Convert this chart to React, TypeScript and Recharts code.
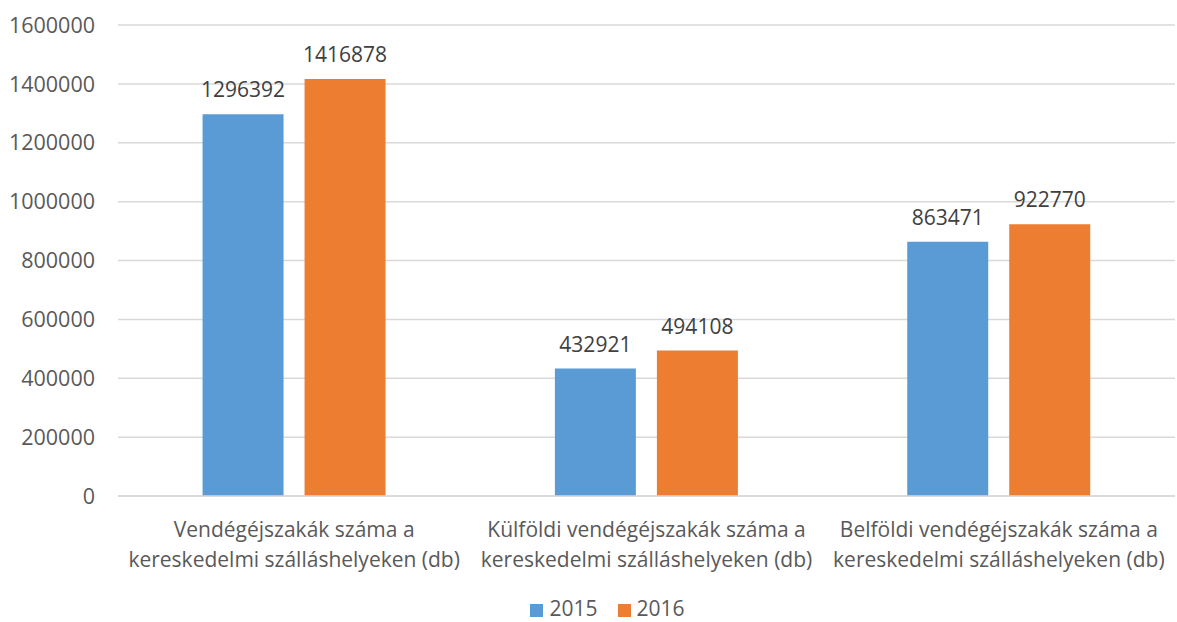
import { BarChart, Bar, XAxis, YAxis, CartesianGrid, Legend, LabelList } from 'recharts'

const categories = [
  'Vendégéjszakák száma a kereskedelmi szálláshelyeken (db)',
  'Külföldi vendégéjszakák száma a kereskedelmi szálláshelyeken (db)',
  'Belföldi vendégéjszakák száma a kereskedelmi szálláshelyeken (db)',
]
const categoryLines = [
  ['Vendégéjszakák száma a', 'kereskedelmi szálláshelyeken (db)'],
  ['Külföldi vendégéjszakák száma a', 'kereskedelmi szálláshelyeken (db)'],
  ['Belföldi vendégéjszakák száma a', 'kereskedelmi szálláshelyeken (db)'],
]
const values2015 = [1296392, 432921, 863471]
const values2016 = [1416878, 494108, 922770]
const yTicks = [0, 200000, 400000, 600000, 800000, 1000000, 1200000, 1400000, 1600000]

const data = categories.map((name, i) => ({
  name,
  '2015': values2015[i],
  '2016': values2016[i],
}))

const FONT = '"Open Sans", sans-serif'
const TEXT = '#595959'

function CategoryTick(props: any) {
  const { x, y, payload, index } = props
  const lines = categoryLines[index] ?? [payload.value]
  return (
    <g transform={`translate(${x},${y})`}>
      {lines.map((l: string, i: number) => (
        <text
          key={i}
          x={0}
          y={33 + i * 30}
          textAnchor="middle"
          fill={TEXT}
          fontSize={21}
          fontFamily={FONT}
        >
          {l}
        </text>
      ))}
    </g>
  )
}

export default function App() {
  return (
    <div style={{ position: 'absolute', left: 0, top: 0, background: '#fff' }}>
      <BarChart
        width={1177}
        height={622}
        data={data}
        margin={{ top: 25, right: 2, left: 0, bottom: 0 }}
        barGap={21}
        barCategoryGap="24%"
      >
        <CartesianGrid vertical={false} stroke="#d9d9d9" strokeWidth={1.5} />
        <XAxis
          dataKey="name"
          height={98}
          tick={<CategoryTick />}
          axisLine={{ stroke: '#d9d9d9', strokeWidth: 1.5 }}
          tickLine={false}
          interval={0}
        />
        <YAxis
          domain={[0, 1600000]}
          ticks={yTicks}
          width={118}
          tickSize={0}
          tickMargin={23}
          axisLine={false}
          tickLine={false}
          tick={{ fontSize: 21.5, fill: TEXT, fontFamily: FONT }}
        />
        <Legend
          verticalAlign="bottom"
          align="center"
          iconType="square"
          iconSize={13}
          wrapperStyle={{ fontFamily: FONT, fontSize: 21, color: TEXT, paddingLeft: 30 }}
          formatter={(v: string) => <span style={{ color: TEXT, marginLeft: 2, marginRight: 10 }}>{v}</span>}
        />
        <Bar dataKey="2015" fill="#5B9BD5" isAnimationActive={false}>
          <LabelList dataKey="2015" position="top" offset={17} fill="#404040" fontSize={21} fontFamily={FONT} />
        </Bar>
        <Bar dataKey="2016" fill="#ED7D31" isAnimationActive={false}>
          <LabelList dataKey="2016" position="top" offset={17} fill="#404040" fontSize={21} fontFamily={FONT} />
        </Bar>
      </BarChart>
    </div>
  )
}
